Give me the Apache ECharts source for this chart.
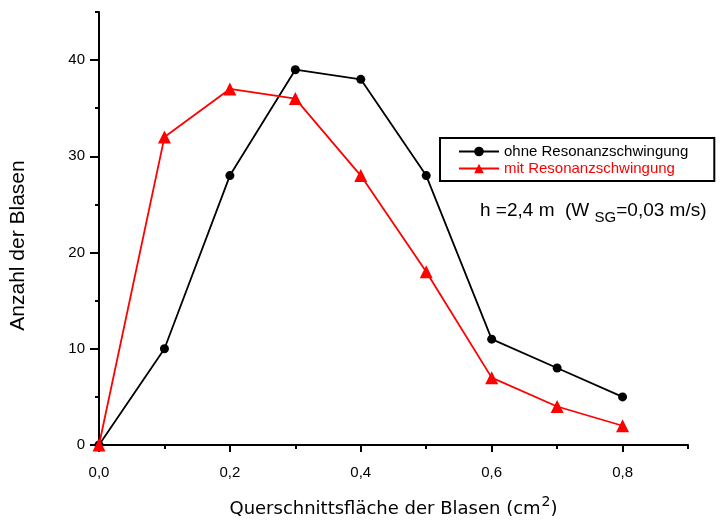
<!DOCTYPE html>
<html><head><meta charset="utf-8">
<script src="https://cdn.jsdelivr.net/npm/echarts@6/dist/echarts.min.js"></script>
<style>html,body{margin:0;padding:0;background:#fff}#c{width:726px;height:523px}</style>
</head><body><div id="c"></div>
<script>
const xValues = [0, 0.1, 0.2, 0.3, 0.4, 0.5, 0.6, 0.7, 0.8];
const ohne = [0, 10, 28, 39, 38, 28, 11, 8, 5];
const mit = [0, 32, 37, 36, 28, 18, 7, 4, 2];
const seriesNames = ['ohne Resonanzschwingung', 'mit Resonanzschwingung'];
const xMajorTicks = [0, 0.2, 0.4, 0.6, 0.8];
const xTickLabels = ['0,0', '0,2', '0,4', '0,6', '0,8'];
const yMajorTicks = [0, 10, 20, 30, 40];
const yTickLabels = ['0', '10', '20', '30', '40'];

const font = 'Liberation Sans, Arial, sans-serif';
const chart = echarts.init(document.getElementById('c'));
const black = '#000';
function xFmt(v) {
  const i = xMajorTicks.findIndex(t => Math.abs(t - v) < 1e-6);
  return i >= 0 ? xTickLabels[i] : '';
}
function yFmt(v) {
  const i = yMajorTicks.findIndex(t => Math.abs(t - v) < 1e-6);
  return i >= 0 ? yTickLabels[i] : '';
}
chart.setOption({
  animation: false,
  backgroundColor: '#fff',
  grid: {left: 98, right: 38, top: 12, bottom: 73},
  xAxis: [{
    type: 'value', min: 0, max: 0.9, interval: 0.2, position: 'bottom',
    axisLine: {show: true, onZero: false, lineStyle: {color: black, width: 2}},
    splitLine: {show: false},
    axisTick: {show: true, length: 7, customValues: xMajorTicks, lineStyle: {color: black, width: 2}},
    axisLabel: {color: black, fontSize: 15, fontFamily: font, margin: 20, customValues: xMajorTicks, formatter: xFmt},
    name: 'Querschnittsfläche der Blasen (cm{sup|2})',
    nameLocation: 'middle', nameGap: 50,
    nameTextStyle: {color: black, fontSize: 18, fontFamily: 'DejaVu Sans, sans-serif',
      rich: {sup: {fontSize: 14, fontFamily: 'DejaVu Sans, sans-serif', verticalAlign: 'top', padding: [0, 0, 14, 1]}}}
  }, {
    type: 'value', min: 0, max: 0.9, interval: 0.1, position: 'bottom',
    axisLine: {show: false, onZero: false},
    splitLine: {show: false},
    axisTick: {show: true, length: 4, lineStyle: {color: black, width: 2}},
    axisLabel: {show: false}
  }],
  yAxis: [{
    type: 'value', min: 0, max: 45, interval: 10, position: 'left',
    axisLine: {show: true, onZero: false, lineStyle: {color: black, width: 2}},
    splitLine: {show: false},
    axisTick: {show: true, length: 9, customValues: yMajorTicks, lineStyle: {color: black, width: 2}},
    axisLabel: {color: black, fontSize: 15, fontFamily: font, margin: 14, customValues: yMajorTicks, formatter: yFmt},
    name: 'Anzahl der Blasen', nameLocation: 'middle', nameGap: 70, nameRotate: 90,
    nameTextStyle: {color: black, fontSize: 21, fontFamily: font, padding: [0, 34, 0, 0]}
  }, {
    type: 'value', min: 0, max: 45, interval: 5, position: 'left',
    axisLine: {show: false, onZero: false},
    splitLine: {show: false},
    axisTick: {show: true, length: 4, lineStyle: {color: black, width: 2}},
    axisLabel: {show: false}
  }],
  legend: {
    left: 440, top: 138, orient: 'vertical',
    itemGap: 2, itemWidth: 40, itemHeight: 12,
    padding: [6, 26, 5, 18],
    borderColor: black, borderWidth: 2,
    textStyle: {fontSize: 15, fontFamily: font},
    data: [
      {name: seriesNames[0], textStyle: {color: black}},
      {name: seriesNames[1], textStyle: {color: '#f00'}}
    ]
  },
  graphic: [{
    type: 'text', left: 480, top: 201,
    style: {
      text: 'h =2,4 m  (W {sub|SG}=0,03 m/s)',
      font: '19px ' + font, fill: black,
      rich: {sub: {fontSize: 15, fontFamily: font, padding: [14, 0, 0, 0]}}
    }
  }],
  series: [
    {name: seriesNames[0], type: 'line', xAxisIndex: 0, yAxisIndex: 0,
      data: xValues.map((x, i) => [x, ohne[i]]),
      symbol: 'circle', symbolSize: 9, color: black,
      lineStyle: {color: black, width: 1.8}, itemStyle: {color: black}, z: 2},
    {name: seriesNames[1], type: 'line', xAxisIndex: 0, yAxisIndex: 0,
      data: xValues.map((x, i) => [x, mit[i]]),
      symbol: 'triangle', symbolSize: 13, color: '#f00',
      lineStyle: {color: '#f00', width: 1.8}, itemStyle: {color: '#f00'}, z: 3}
  ]
});
</script></body></html>
